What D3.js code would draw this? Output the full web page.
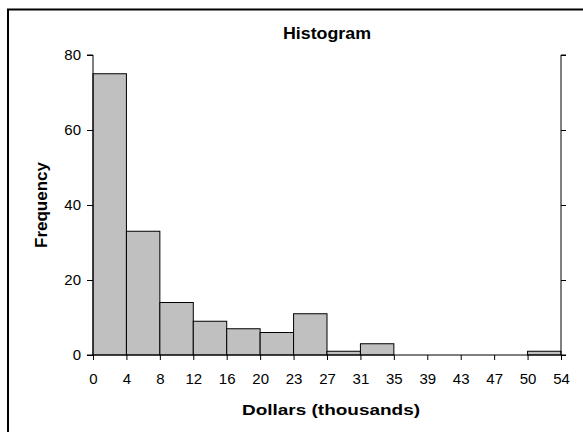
<!DOCTYPE html>
<html><head><meta charset="utf-8">
<script src="https://cdn.jsdelivr.net/npm/d3@7"></script>
<style>body{margin:0;background:#fff}svg{display:block}text{font-family:"Liberation Sans",Arial,sans-serif;fill:#000}</style>
</head><body><svg id="c" width="583" height="432"></svg>
<script>
const binLabels = ["0","4","8","12","16","20","23","27","31","35","39","43","47","50","54"];
const frequencies = [75,33,14,9,7,6,11,1,3,0,0,0,0,1];
const yTicks = [0,20,40,60,80];
const title = "Histogram";
const xTitle = "Dollars (thousands)";
const yTitle = "Frequency";

const svg = d3.select("#c");
const L = 93, R = 561, T = 55, B = 355;

svg.append("rect").attr("x",8).attr("y",9.5).attr("width",620).attr("height",460)
  .attr("fill","none").attr("stroke","#000").attr("stroke-width",2);

const x = d3.scaleLinear().domain([0, frequencies.length]).range([L, R]);
const y = d3.scaleLinear().domain([0, 80]).range([B, T]);

// bars
svg.append("g").selectAll("rect").data(frequencies).join("rect")
  .attr("x", (d,i)=>x(i)).attr("width", (d,i)=>x(i+1)-x(i))
  .attr("y", d=>y(d)).attr("height", d=>y(0)-y(d))
  .attr("fill","#C0C0C0").attr("stroke","#000").attr("stroke-width",1);

// left axis
const yAxis = d3.axisLeft(y).tickValues(yTicks).tickSize(6).tickPadding(6);
const gy = svg.append("g").attr("transform",`translate(${L},0)`).call(yAxis);
gy.select(".domain").attr("d",`M-6,${T}H0V${B}H-6`);
gy.selectAll("text").style("font-size","15px");

// right axis
const yAxisR = d3.axisRight(y).tickValues(yTicks).tickSize(5).tickFormat("");
const gr = svg.append("g").attr("transform",`translate(${R},0)`).call(yAxisR);
gr.select(".domain").attr("d",`M5,${T}H0V${B}`);

// bottom axis
const xAxis = d3.axisBottom(x).tickValues(d3.range(binLabels.length))
  .tickFormat((d,i)=>binLabels[i]).tickSize(5).tickPadding(13);
const gx = svg.append("g").attr("transform",`translate(0,${B})`).call(xAxis);
gx.select(".domain").attr("d",`M${L},0H${R+5}`);
gx.selectAll("text").style("font-size","15px");

svg.selectAll(".domain, .tick line").attr("stroke","#000").attr("stroke-width",1);

// titles
svg.append("text").attr("x",327).attr("y",39).attr("text-anchor","middle")
  .style("font-size","16px").style("font-weight","bold")
  .attr("textLength",88).attr("lengthAdjust","spacingAndGlyphs").text(title);
svg.append("text").attr("x",331).attr("y",415).attr("text-anchor","middle")
  .style("font-size","15px").style("font-weight","bold")
  .attr("textLength",178).attr("lengthAdjust","spacingAndGlyphs").text(xTitle);
svg.append("text").attr("transform","translate(47,205) rotate(-90)").attr("text-anchor","middle")
  .style("font-size","16px").style("font-weight","bold")
  .attr("textLength",86).attr("lengthAdjust","spacingAndGlyphs").text(yTitle);
</script></body></html>
